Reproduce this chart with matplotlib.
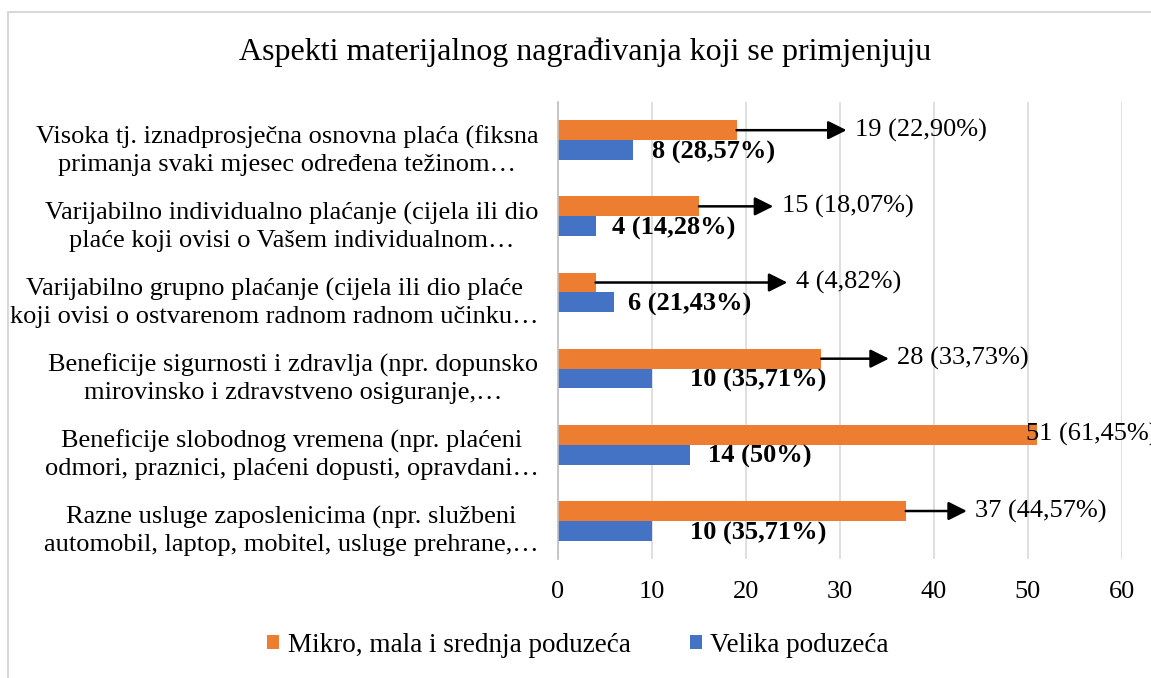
import matplotlib
matplotlib.use('Agg')
from matplotlib import pyplot as plt
from matplotlib.patches import Rectangle
import numpy as np

plt.rcParams['font.family'] = ['Liberation Serif', 'DejaVu Serif']

# podaci
kategorije = [
    'Visoka tj. iznadprosječna osnovna plaća (fiksna\nprimanja svaki mjesec određena težinom…',
    'Varijabilno individualno plaćanje (cijela ili dio\nplaće koji ovisi o Vašem individualnom…',
    'Varijabilno grupno plaćanje (cijela ili dio plaće\nkoji ovisi o ostvarenom radnom radnom učinku…',
    'Beneficije sigurnosti i zdravlja (npr. dopunsko\nmirovinsko i zdravstveno osiguranje,…',
    'Beneficije slobodnog vremena (npr. plaćeni\nodmori, praznici, plaćeni dopusti, opravdani…',
    'Razne usluge zaposlenicima (npr. službeni\nautomobil, laptop, mobitel, usluge prehrane,…',
]
msp = [19, 15, 4, 28, 51, 37]
msp_pct = ['22,90', '18,07', '4,82', '33,73', '61,45', '44,57']
velika = [8, 4, 6, 10, 14, 10]
velika_pct = ['28,57', '14,28', '21,43', '35,71', '50', '35,71']

# gdje stoje oznake (x u jedinicama osi)
msp_oznaka_x = [31.6, 23.8, 25.3, 36.1, 49.8, 44.4]
velika_oznaka_x = [10.0, 5.7, 7.4, 14.0, 16.0, 14.0]

narancasta = '#ED7D31'
plava = '#4472C4'
fs = 19

fig = plt.figure(figsize=(11.51, 6.78), dpi=100)
ax = fig.add_axes([558 / 1151, 1 - 559 / 678, 564 / 1151, 457 / 678])

y = np.arange(len(kategorije))
h = 0.26
ax.barh(y - h / 2, msp, height=h, color=narancasta, label='Mikro, mala i srednja poduzeća', zorder=3)
ax.barh(y + h / 2, velika, height=h, color=plava, label='Velika poduzeća', zorder=3)

for i in range(len(kategorije)):
    oznaka = f'{msp[i]} ({msp_pct[i]}%)'
    if msp_oznaka_x[i] > msp[i] + 3:
        ax.annotate('', xy=(msp_oznaka_x[i] - 0.9, y[i] - h / 2), xytext=(msp[i], y[i] - h / 2),
                    arrowprops=dict(arrowstyle='-|>', color='black', lw=1.8, mutation_scale=28,
                                    shrinkA=0, shrinkB=0), zorder=5)
    ax.text(msp_oznaka_x[i], y[i] - h / 2, oznaka, fontsize=fs, va='center', ha='left',
            clip_on=False, zorder=6)
    ax.text(velika_oznaka_x[i], y[i] + h / 2 + 0.03, f'{velika[i]} ({velika_pct[i]}%)',
            fontsize=fs, fontweight='bold', va='center', ha='left', zorder=6)

ax.set_xlim(0, 60)
ax.set_ylim(5.5, -0.5)
ax.set_xticks(range(0, 61, 10))
ax.set_yticks(y + 0.07)
ax.set_yticklabels(kategorije, fontsize=fs, multialignment='center', linespacing=1.3)
ax.tick_params(axis='x', length=0, pad=16, labelsize=fs)
ax.tick_params(axis='y', length=0, pad=14)

ax.grid(axis='x', color='#D9D9D9', lw=1.2, zorder=0)
for s in ['top', 'right', 'bottom']:
    ax.spines[s].set_visible(False)
ax.spines['left'].set_color('#BFBFBF')
ax.spines['left'].set_linewidth(1.2)
ax.spines['left'].set_zorder(4)

fig.text(585 / 1151, 1 - 52 / 678, 'Aspekti materijalnog nagrađivanja koji se primjenjuju',
         fontsize=23, ha='center', va='center')

fig.legend(loc='center', bbox_to_anchor=(578 / 1151, 1 - 645 / 678), ncol=2, frameon=False,
           fontsize=19.5, handlelength=0.45, handleheight=0.45, handletextpad=0.3, columnspacing=2.2)

# okvir grafikona
fig.patches.append(Rectangle((8 / 1151, -0.1), 1.2, 1 - 12 / 678 + 0.1, transform=fig.transFigure,
                             fill=False, edgecolor='#D9D9D9', lw=1.5))

plt.savefig('out.png', dpi=100)
